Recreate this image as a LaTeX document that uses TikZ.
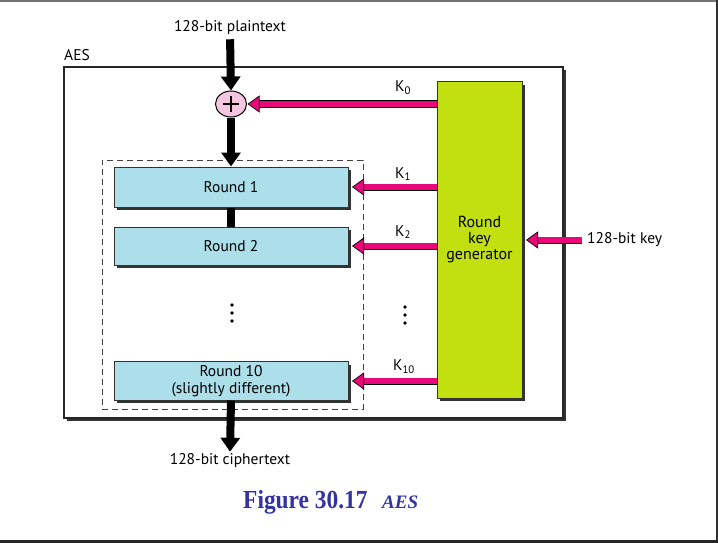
\documentclass[tikz,border=0pt]{standalone}
\usepackage{fontspec}
\setmainfont{PT Sans}
\newfontfamily\capfont{Liberation Serif}
\usetikzlibrary{arrows.meta,shapes.geometric}
\definecolor{roundblue}{RGB}{173,223,234}
\definecolor{keygreen}{RGB}{194,224,15}
\definecolor{keypink}{RGB}{232,8,122}
\definecolor{xorpink}{RGB}{246,198,224}
\definecolor{capblue}{RGB}{50,50,165}
\tikzset{
  shadowed/.style={preaction={fill=black!80, transform canvas={xshift=3pt,yshift=-3pt}}},
  roundbox/.style={draw=black!80, line width=1pt, fill=roundblue, shadowed, minimum width=234pt, align=center, font=\fontsize{15.5}{17}\selectfont},
  genbox/.style={draw=black!80, line width=1pt, fill=keygreen, shadowed, minimum width=85pt, minimum height=316pt, align=center, font=\fontsize{16}{16}\selectfont},
  aesbox/.style={draw=black!85, line width=1.3pt, fill=white, shadowed},
  lbl/.style={font=\fontsize{15.5}{17}\selectfont, inner sep=1pt},
  captext/.style={text=capblue, inner sep=0pt, anchor=base west},
  blackarrow/.style={line width=8pt, -{Triangle[length=14pt,width=19pt]}},
  pinkarrow/.style={line width=5.5pt, draw=keypink, -{Triangle[length=12pt,width=17pt,color=black,fill=keypink,line width=0.7pt]},
    preaction={draw=black, line width=7pt, -, shorten >=10pt}},
  dotmark/.style={fill=black, circle, inner sep=0pt, minimum size=3.6pt}
}
\begin{document}
\begin{tikzpicture}[x=1pt,y=-1pt]
\useasboundingbox (0,0) rectangle (718,543);
\fill[white] (0,0) rectangle (718,543);
% page frame
\draw[black!55, line width=1.5pt] (0,1) -- (717,1);
\draw[black!80, line width=2pt] (717,0) -- (717,541);
\draw[black!85, line width=3pt] (0,541.5) -- (718,541.5);

% AES outer box
\node[aesbox, minimum width=499pt, minimum height=351pt, inner sep=0pt] (aes) at (313.5,242.5) {};
\node[lbl, anchor=base west, inner sep=0pt] (aeslabel) at (64,61) {AES};

% dashed box
\node[draw=black!75, dash pattern=on 6pt off 4pt, line width=0.8pt, minimum width=261pt, minimum height=249pt, inner sep=0pt] (rounds) at (232.5,284.5) {};

% rounds
\node[roundbox, minimum height=40pt] (r1) at (231,187) {Round 1};
\node[roundbox, minimum height=38pt] (r2) at (231,246) {Round 2};
\node[roundbox, minimum height=38pt] (r10) at (231,381) {Round 10\\(slightly different)};

% key generator
\node[genbox] (gen) at (479.5,240) {Round\\key\\generator};

% xor
\node[ellipse, draw=black, line width=1pt, fill=xorpink, minimum width=31pt, minimum height=26pt, inner sep=0pt,
  path picture={\draw[line width=1.1pt] ([xshift=-8pt]path picture bounding box.center) -- ([xshift=8pt]path picture bounding box.center);
                \draw[line width=1.1pt] ([yshift=-8pt]path picture bounding box.center) -- ([yshift=8pt]path picture bounding box.center);}] (xor) at (231,104) {};

% texts
\node[lbl] (ptext) at (230,28) {128-bit plaintext};
\node[lbl] (ctext) at (230,461) {128-bit ciphertext};
\coordinate (kin) at (582,240);
\node[lbl, anchor=west] (kinlabel) at (586,240) {128-bit key};

% black arrows
\draw[blackarrow, shorten <=3pt] (ptext.south) -- (xor.north);
\draw[blackarrow] (xor.south) -- (r1.north);
\draw[line width=8pt] (r1.south) -- (r2.north);
\draw[blackarrow] (r10.south) -- ([yshift=1pt]ctext.north);

% pink key arrows
\draw[pinkarrow] (gen.west |- xor) -- ([xshift=0.5pt]xor.east);
\draw[pinkarrow] (gen.west |- r1) -- ([xshift=3.5pt]r1.east);
\draw[pinkarrow] (gen.west |- r2) -- ([xshift=3.5pt]r2.east);
\draw[pinkarrow] (gen.west |- r10) -- ([xshift=3.5pt]r10.east);
\draw[pinkarrow] (kin) -- ([xshift=3.5pt]gen.east);

% key labels
\node[lbl] (k0) at (403,88) {K\textsubscript{0}};
\node[lbl] (k1) at (403,174) {K\textsubscript{1}};
\node[lbl] (k2) at (403,232) {K\textsubscript{2}};
\node[lbl] (k10) at (404,367) {K\textsubscript{10}};

% dots
\node[dotmark] (ld1) at (232,305) {};
\node[dotmark] (ld2) at (232,313) {};
\node[dotmark] (ld3) at (232,321) {};
\node[dotmark] (rd1) at (405,307) {};
\node[dotmark] (rd2) at (405,315) {};
\node[dotmark] (rd3) at (405,323) {};

% caption
\node[captext] (capfig) at (243,508) {\capfont\bfseries\fontsize{26}{30}\selectfont\scalebox{0.9}[1]{Figure 30.17}};
\node[captext] (capaes) at (382,508) {\capfont\bfseries\itshape\fontsize{19}{22}\selectfont AES};
\end{tikzpicture}
\end{document}
